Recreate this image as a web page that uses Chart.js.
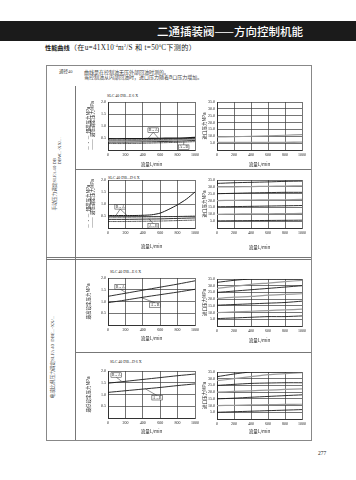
<!DOCTYPE html>
<html><head><meta charset="utf-8">
<script src="https://cdn.jsdelivr.net/npm/chart.js@4.4.1/dist/chart.umd.min.js"></script>
<style>
html,body{margin:0;padding:0;background:#fff;}
body{width:356px;height:480px;position:relative;overflow:hidden;font-family:'Liberation Serif','Noto Sans CJK SC',serif;color:#222;}
.abs{position:absolute;white-space:nowrap;}
canvas{position:absolute;}
.ln{position:absolute;background:#777;}
.rot{position:absolute;white-space:nowrap;transform:translate(-50%,-50%) rotate(-90deg);}
sup{font-size:4px;line-height:0;vertical-align:3px;}
.ct{position:absolute;white-space:nowrap;font-size:4px;line-height:5px;color:#222;}
</style></head><body>
<div class="abs" style="left:0;top:21px;width:356px;height:20px;background:#1b1b1b;"></div>
<div class="abs" style="left:157px;top:21px;height:20px;line-height:20px;color:#fff;font-family:'Noto Sans CJK SC';font-weight:500;font-size:11.5px;">二通插装阀——方向控制机能</div>
<div class="abs" style="left:45px;top:43px;line-height:10px;font-size:7.2px;letter-spacing:0.3px;"><b style="font-family:'Noto Sans CJK SC';font-size:6.2px;letter-spacing:0;">性能曲线</b>（在u=41X10<sup>-4</sup>m<sup>2</sup>/S 和 t=50<sup>0</sup>C下测的）</div>

<div class="abs" style="left:46px;top:65px;width:264px;height:374px;border:1px solid #888;"></div>
<div class="ln" style="left:75px;top:86px;width:1px;height:354px;"></div>
<div class="ln" style="left:75px;top:169px;width:236px;height:1px;"></div>
<div class="ln" style="left:46px;top:257px;width:265px;height:1px;"></div>
<div class="ln" style="left:46px;top:259px;width:265px;height:1px;"></div>
<div class="ln" style="left:75px;top:352px;width:236px;height:1px;"></div>

<div class="abs" style="left:59px;top:68.5px;font-size:4.5px;line-height:5px;color:#444;">通径40</div>
<div class="abs" style="left:84px;top:68.5px;font-size:5px;line-height:5.5px;color:#444;font-family:'Noto Sans CJK SC';">曲线是在控制油无压外部回油时测的。<br>当控制油从内部回油时，进口压力随着B口压力增加。</div>

<div class="rot" style="left:57px;top:174px;font-size:4.7px;line-height:4.5px;color:#444;"><span style="vertical-align:top">手动压力调定SLFA 40 </span><span style="display:inline-block;vertical-align:top">DB<br>DBW...-XX/...</span></div>
<div class="rot" style="left:51.5px;top:357px;font-size:4.7px;line-height:5px;color:#444;">电液比例压力调定SLFA 40&nbsp;&nbsp;DBE...-XX/...</div>

<div class="ct" style="left:107px;top:92.5px;">SLC 40 DB...E 6 X</div>
<div class="ct" style="left:108px;top:174.5px;">SLC 40 DB...D 6 X</div>
<div class="ct" style="left:110px;top:268.5px;">SLC 40 DB...E 6 X</div>
<div class="ct" style="left:110px;top:358.5px;">SLC 40 DB...D 6 X</div>

<div class="abs" style="left:318px;top:450px;font-size:5.5px;line-height:6px;">277</div>

<canvas id="c1L"></canvas><canvas id="c1R"></canvas>
<canvas id="c2L"></canvas><canvas id="c2R"></canvas>
<canvas id="c3L"></canvas><canvas id="c3R"></canvas>
<canvas id="c4L"></canvas><canvas id="c4R"></canvas>

<script>
// ---- data ----
const flow = [0, 200, 400, 600, 800, 1000];
const flowFine = [0, 100, 200, 300, 400, 500, 600, 700, 800, 900, 1000];
const xTickLabels = ['0', '200', '400', '600', '800', '1000'];
const xTitle = '流量L/min';
const inletTitle = '进口压力MPa';

// chart 1: SLC 40 DB...E 6 X (卸荷 / 最低调定压力)
const c1BA  = [0.47, 0.47, 0.48, 0.49, 0.50, 0.53];
const c1BAu = [0.42, 0.42, 0.43, 0.44, 0.46, 0.49];
const c1Mid = [0.38, 0.38, 0.39, 0.40, 0.42, 0.45];
const c1AB  = [0.33, 0.33, 0.34, 0.35, 0.37, 0.40];
const c1ABu = [0.27, 0.27, 0.28, 0.30, 0.32, 0.35];
const c1In1 = [5.5, 5.5, 5.5, 5.6, 5.6, 5.7];
const c1In2 = [9.5, 9.7, 10.0, 10.4, 10.8, 11.2];

// chart 2: SLC 40 DB...D 6 X
const c2BA  = [0.52, 0.52, 0.52, 0.52, 0.53, 0.55, 0.62, 0.78, 0.97, 1.20, 1.50];
const c2BAu = [0.45, 0.45, 0.46, 0.47, 0.48, 0.50];
const c2AB  = [0.36, 0.36, 0.37, 0.38, 0.40, 0.42];
const c2ABu = [0.27, 0.27, 0.28, 0.29, 0.31, 0.33];
const c2In = [
  [32.5, 33.0, 33.3, 33.6, 34.0, 34.2],
  [30.0, 30.0, 30.2, 30.4, 30.6, 30.8],
  [25.0, 25.3, 25.6, 25.8, 26.0, 26.0],
  [20.0, 20.2, 20.4, 20.5, 20.6, 20.8],
  [15.5, 15.6, 15.8, 16.0, 16.2, 16.4],
  [10.0, 10.2, 10.3, 10.4, 10.5, 10.6],
  [5.2, 5.3, 5.4, 5.5, 5.6, 5.7]
];

// chart 3: SLC 40 DB...E 6 X (最高设定压力)
const c3BA = [1.22, 1.35, 1.48, 1.61, 1.74, 1.88];
const c3AB = [0.95, 1.06, 1.18, 1.29, 1.40, 1.52];
const c3In = [
  [32.5, 34.0, 35.0, 35.0, 35.0, 35.0],
  [28.0, 29.5, 31.0, 32.0, 33.0, 34.0],
  [25.0, 26.0, 27.0, 28.0, 29.0, 30.0],
  [20.5, 21.5, 22.0, 23.0, 23.5, 24.0],
  [15.5, 16.0, 16.5, 17.0, 17.5, 18.5],
  [10.0, 10.5, 11.0, 11.5, 12.0, 12.5],
  [5.5, 6.0, 6.5, 7.0, 7.0, 7.5]
];

// chart 4: SLC 40 DB...D 6 X (最低设定压力)
const c4BA = [1.48, 1.56, 1.64, 1.72, 1.80, 1.87];
const c4AB = [1.09, 1.16, 1.23, 1.30, 1.38, 1.45];
const c4In = [
  [31.5, 33.5, 35.0, 35.0, 35.0, 35.0],
  [28.5, 30.0, 31.5, 33.0, 33.8, 34.5],
  [25.0, 25.8, 26.5, 26.8, 27.0, 27.0],
  [20.0, 20.5, 21.0, 21.5, 22.0, 22.5],
  [15.0, 15.5, 16.2, 16.8, 17.4, 18.0],
  [10.0, 10.2, 10.5, 10.7, 10.9, 11.0],
  [5.0, 5.4, 5.8, 6.2, 6.6, 7.0]
];

// ---- helpers ----
const pts = (xs, ys) => ys.map((v, i) => ({x: xs[i], y: v}));
const DASHDOT = [2.5, 1, 0.6, 1];

const tagPlugin = {
  id: 'tags',
  afterDatasetsDraw(chart, args, opts) {
    const items = opts.items || [];
    const {ctx} = chart, x = chart.scales.x, y = chart.scales.y;
    ctx.save();
    items.forEach(t => {
      const lx = x.getPixelForValue(t.at[0]), ly = y.getPixelForValue(t.at[1]);
      ctx.font = '3.6px "Liberation Serif"';
      const w = ctx.measureText(t.text).width + 2, h = 4.4;
      ctx.strokeStyle = '#222'; ctx.lineWidth = 0.5;
      t.to.forEach(p => {
        const px = x.getPixelForValue(p[0]), py = y.getPixelForValue(p[1]);
        ctx.beginPath();
        ctx.moveTo(lx, ly + (py > ly ? h / 2 : -h / 2));
        ctx.lineTo(px, py);
        ctx.stroke();
      });
      ctx.fillStyle = '#fff';
      ctx.fillRect(lx - w / 2, ly - h / 2, w, h);
      ctx.strokeRect(lx - w / 2, ly - h / 2, w, h);
      ctx.fillStyle = '#111'; ctx.textAlign = 'center'; ctx.textBaseline = 'middle';
      ctx.fillText(t.text, lx, ly + 0.2);
    });
    ctx.restore();
  }
};

function makeChart(id, g, datasets, yCfg, tags) {
  const cv = document.getElementById(id);
  cv.width = g.w; cv.height = g.h;
  cv.style.left = g.left + 'px'; cv.style.top = g.top + 'px';
  return new Chart(cv, {
    type: 'line',
    data: {datasets},
    plugins: [tagPlugin],
    options: {
      responsive: false, animation: false, devicePixelRatio: 1,
      layout: {padding: {top: g.pt, right: g.pr, left: 0, bottom: 0}},
      elements: {point: {radius: 0}, line: {tension: 0.25, borderCapStyle: 'round'}},
      plugins: {legend: {display: false}, tooltip: {enabled: false}, tags: {items: tags || []}},
      scales: {
        x: {
          type: 'linear', min: 0, max: 1000,
          afterBuildTicks: s => { s.ticks = flow.map(v => ({value: v})); },
          ticks: {autoSkip: false, maxRotation: 0, padding: 2.5, color: '#222',
                  font: {size: 4, family: 'Liberation Serif'},
                  callback: v => xTickLabels[flow.indexOf(v)]},
          grid: {color: '#3a3a3a', lineWidth: 0.7, drawTicks: false},
          border: {color: '#222', width: 0.8},
          title: {display: true, text: xTitle, color: '#222', padding: 0,
                  font: {size: 4.5, family: 'Noto Sans CJK SC'}},
          afterFit: s => { s.height = g.xh; s.paddingLeft = 0; s.paddingRight = 0; }
        },
        y: {
          type: 'linear', min: 0, max: yCfg.max,
          ticks: {stepSize: yCfg.step, autoSkip: false, padding: 2, color: '#222',
                  font: {size: 4, family: 'Liberation Serif'},
                  callback: v => v === 0 ? '' : v.toFixed(1)},
          grid: {color: '#3a3a3a', lineWidth: 0.7, drawTicks: false},
          border: {color: '#222', width: 0.8},
          title: {display: true, text: yCfg.title, color: '#222', align: yCfg.align || 'center',
                  padding: {top: g.tp, bottom: 0},
                  font: {size: 4.5, lineHeight: 1, family: 'Noto Sans CJK SC'}},
          afterFit: s => { s.width = g.yw; s.paddingTop = 0; s.paddingBottom = 0; }
        }
      }
    }
  });
}

const L = (top, pt, plotH, xh) => ({left: 77, top, w: 124, h: pt + plotH + xh, pt, pr: 6, yw: 31, xh, tp: 8.75});
const R = (top, pt, plotH, xh) => ({left: 200, top, w: 108, h: pt + plotH + xh, pt, pr: 6, yw: 17, xh, tp: 1.75});

const dark = (data, w) => ({data, borderColor: '#1a1a1a', borderWidth: w || 0.9});
const gray = (data, w) => ({data, borderColor: '#9a9a9a', borderWidth: w || 1.3});
const dd = (data) => ({data, borderColor: '#1a1a1a', borderWidth: 0.7, borderDash: DASHDOT});

const leftY1 = {max: 2, step: 0.5, title: ['— · —  卸荷压力MPa', '———  最低调定压力MPa'], align: 'start'};
const rightY = {max: 35, step: 5, title: inletTitle};
const inletSets = arr => arr.map((s, i) => i % 2 === 0 ? dark(pts(flow, s), 0.9) : gray(pts(flow, s), 1.2));

// row 1
makeChart('c1L', L(98, 4, 48, 17), [
  dark(pts(flow, c1BA), 1.2), dd(pts(flow, c1BAu)), gray(pts(flow, c1Mid), 1.4),
  dark(pts(flow, c1AB), 0.9), dd(pts(flow, c1ABu))
], leftY1, [
  {text: 'B→A', at: [520, 0.83], to: [[460, 0.48], [580, 0.49]]},
  {text: 'A→B', at: [870, 0.12], to: [[870, 0.36]]}
]);
makeChart('c1R', R(98, 4, 48, 17), [gray(pts(flow, c1In1), 1.3), gray(pts(flow, c1In2), 1.1)], rightY);

// row 2
makeChart('c2L', L(176, 4, 48, 21), [
  dark(pts(flowFine, c2BA), 1.0), dd(pts(flow, c2BAu)),
  dark(pts(flow, c2AB), 0.9), dd(pts(flow, c2ABu))
], leftY1, [
  {text: 'B→A', at: [140, 0.88], to: [[90, 0.52], [220, 0.52]]},
  {text: 'A→B', at: [520, 0.09], to: [[470, 0.39]]}
]);
makeChart('c2R', R(176, 4, 48, 22), inletSets(c2In), rightY);

// row 3
makeChart('c3L', L(274, 4, 47, 16), [dark(pts(flow, c3BA), 0.9), dark(pts(flow, c3AB), 0.9)],
  {max: 2, step: 0.5, title: '最高设定压力MPa'}, [
  {text: 'B→A', at: [140, 1.62], to: [[210, 1.37]]},
  {text: 'A→B', at: [540, 0.85], to: [[380, 1.17]]}
]);
makeChart('c3R', R(275, 4, 47, 17), inletSets(c3In), rightY);

// row 4
makeChart('c4L', L(367, 4, 47, 16), [dark(pts(flow, c4BA), 0.9), dark(pts(flow, c4AB), 0.9)],
  {max: 2, step: 0.5, title: '最低设定压力MPa'}, [
  {text: 'B→A', at: [95, 1.83], to: [[160, 1.55]]},
  {text: 'A→B', at: [565, 0.86], to: [[430, 1.24]]}
]);
makeChart('c4R', R(368, 4, 47, 15), inletSets(c4In), rightY);
</script>
</body></html>
